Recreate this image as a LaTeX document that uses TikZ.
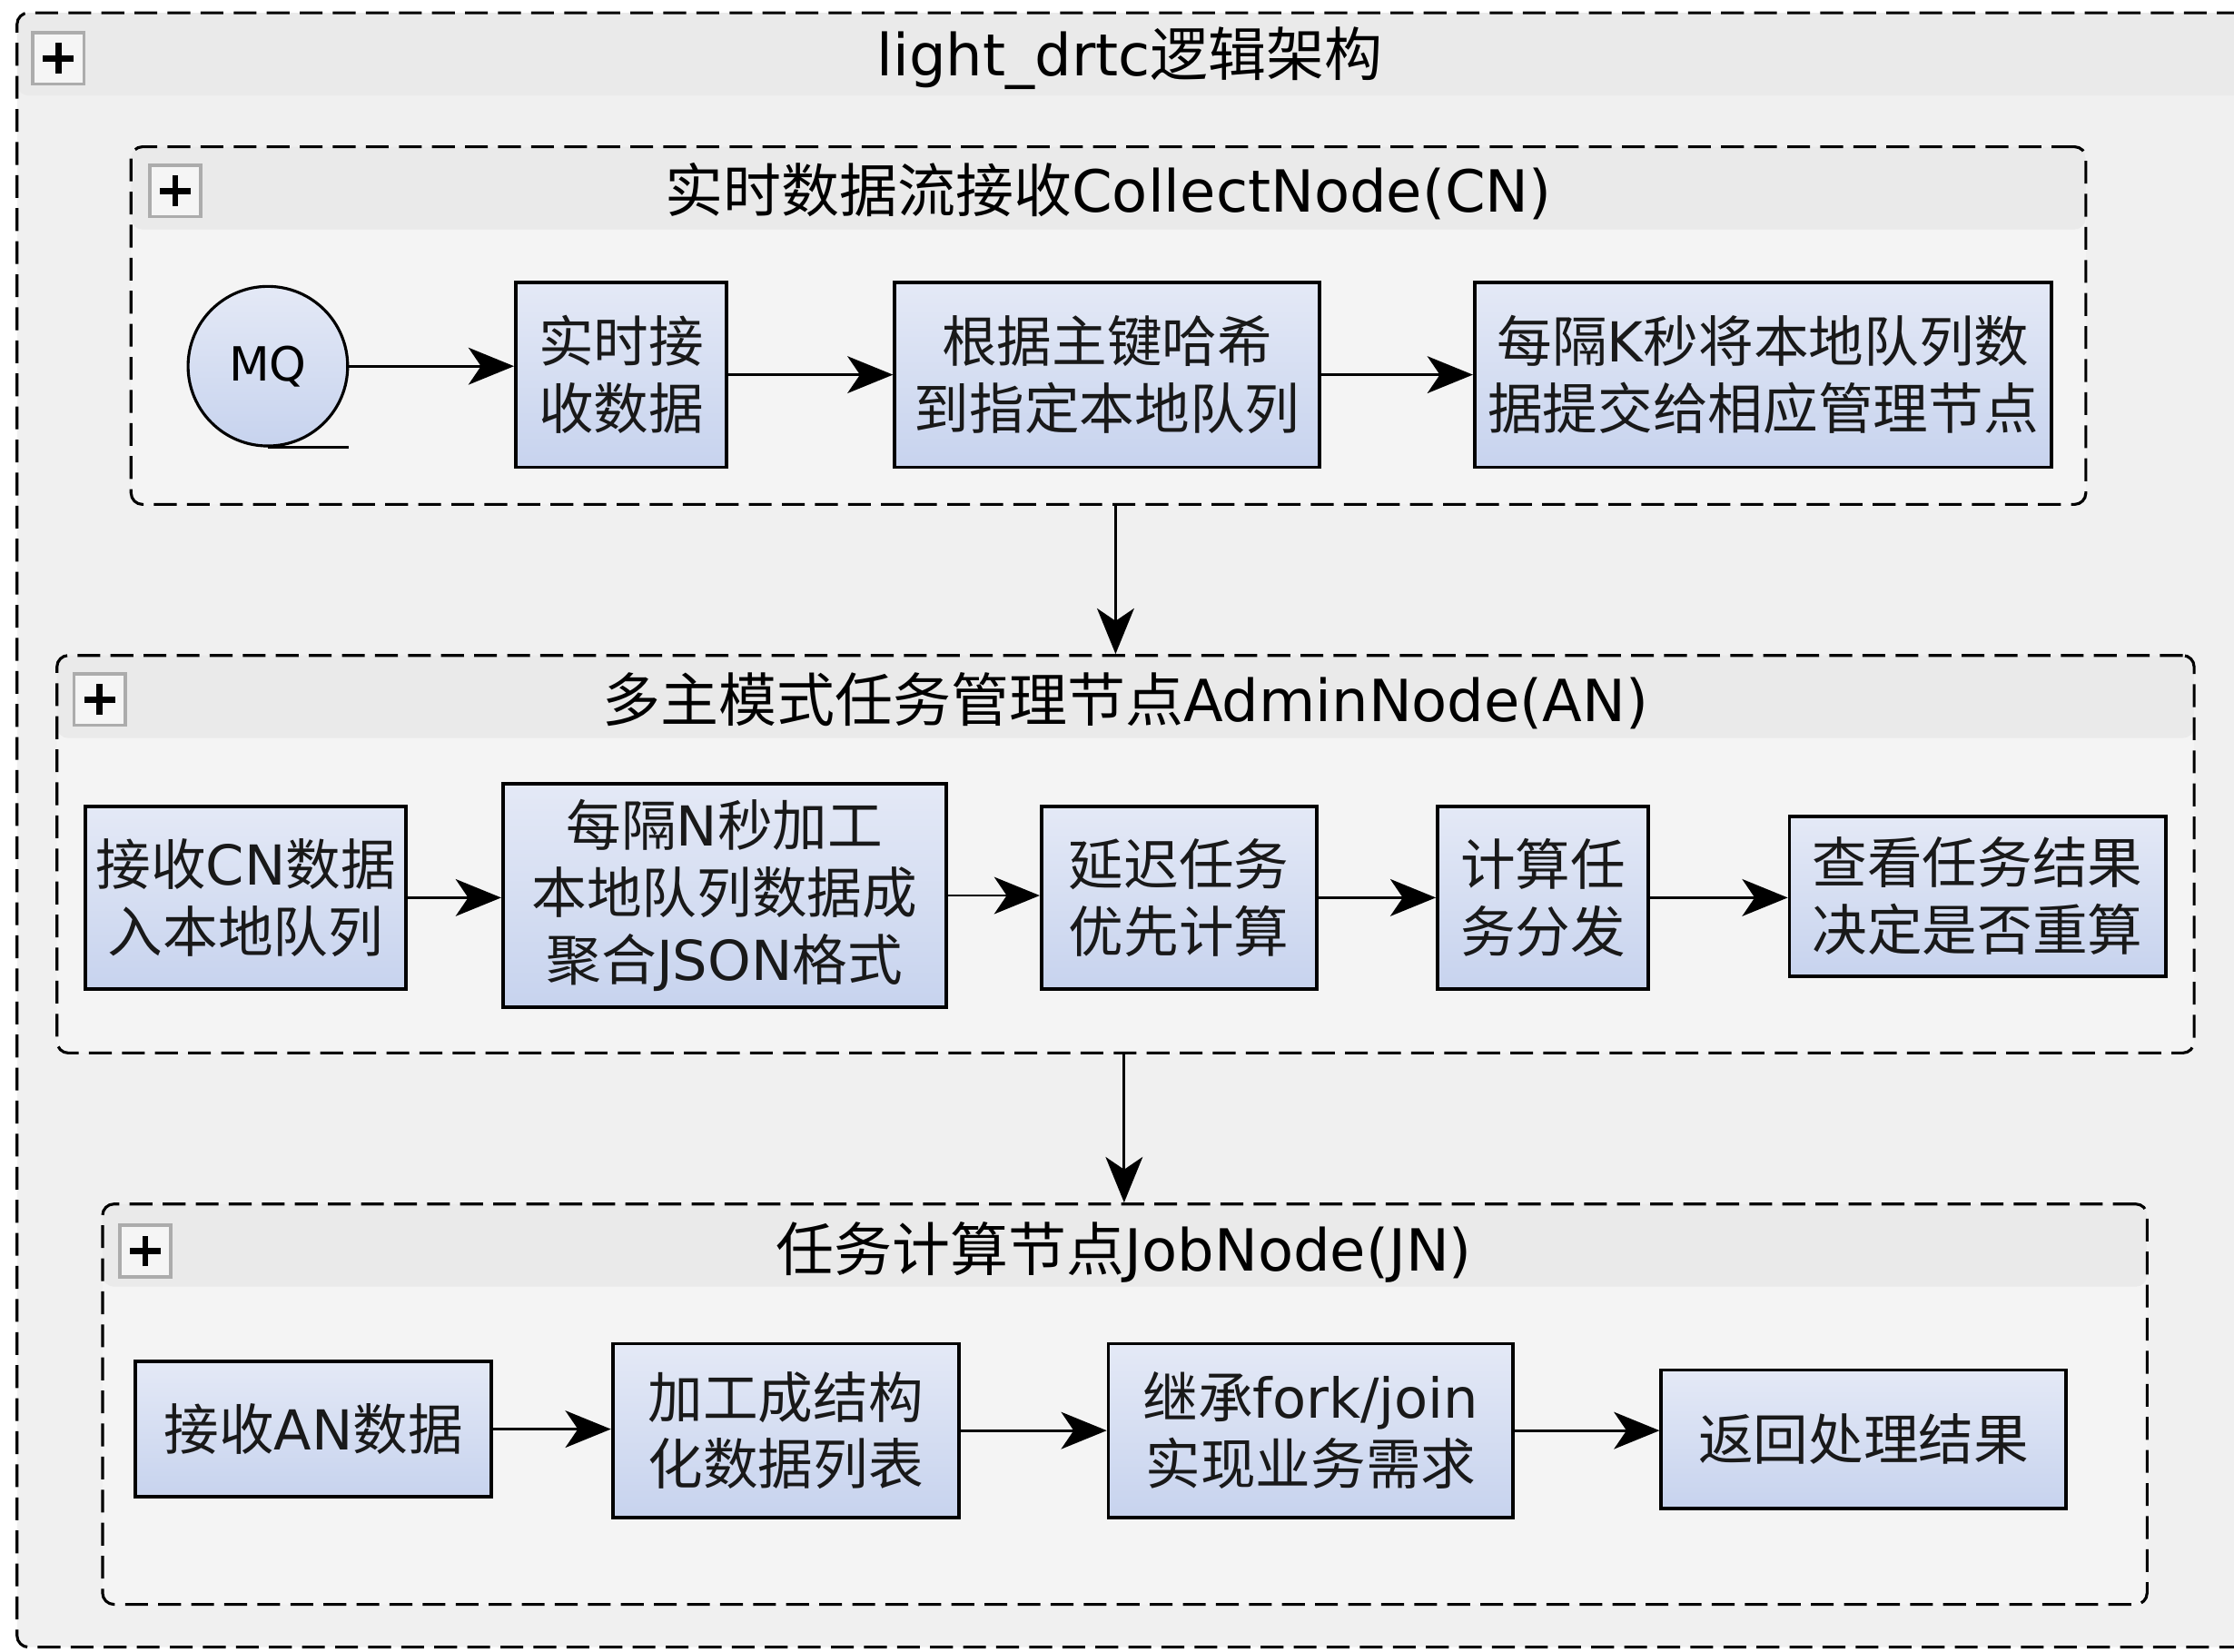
\documentclass[tikz,border=0pt]{standalone}
\usepackage{fontspec}
\setmainfont{DejaVu Sans}
\newfontfamily\cjk{Noto Sans CJK SC}
\usetikzlibrary{arrows.meta}
\newcommand\zh[1]{{\cjk #1}}
\newcommand\boxfont{\fontsize{27.5pt}{33.4pt}\selectfont}
\newcommand\ttlfont{\fontsize{29pt}{34pt}\selectfont}
\newcommand\mqfont{\fontsize{23.5pt}{28pt}\selectfont}
\definecolor{boxtop}{HTML}{E4E9F6}
\definecolor{boxbot}{HTML}{C7D3EE}
\definecolor{grpbg}{HTML}{F4F4F4}
\definecolor{hdrbg}{HTML}{EAEAEA}
\definecolor{outerbg}{HTML}{F0F0F0}
\begin{document}
\begin{tikzpicture}[x=0.25mm,y=-0.25mm,
  grp/.style={draw=black, line width=0.5mm, dash pattern=on 4mm off 1.8mm,
    rounded corners=2mm, fill=grpbg, inner sep=0,
    path picture={\fill[hdrbg] (path picture bounding box.north west) rectangle ([yshift=-14.5mm]path picture bounding box.north east);}},
  plusbox/.style={draw=gray!65, line width=0.6mm, fill=white!92!gray, minimum size=9mm, inner sep=0,
    path picture={\draw[line width=1.1mm,black] ([xshift=-2.7mm]path picture bounding box.center) -- ([xshift=2.7mm]path picture bounding box.center);
                  \draw[line width=1.1mm,black] ([yshift=-2.7mm]path picture bounding box.center) -- ([yshift=2.7mm]path picture bounding box.center);}},
  ttl/.style={font=\ttlfont, inner sep=0, text=black},
  box/.style={draw=black, line width=0.6mm, top color=boxtop, bottom color=boxbot,
    align=center, font=\boxfont, inner sep=0, text=black!90},
  mqnode/.style={circle, draw=black, line width=0.5mm, top color=boxtop, bottom color=boxbot,
    minimum size=28mm, inner sep=0, font=\mqfont},
  arr/.style={-{Stealth[length=8mm,width=6.5mm,inset=2.2mm]}, line width=0.45mm, black}
]
\clip (0,0) rectangle (1568,1159);
\fill[white] (0,0) rectangle (1568,1159);

% outer frame
\node[grp, fill=outerbg, minimum width=392mm, minimum height=286.75mm] (outer) at (796,582.5) {};
\node[plusbox] (po) at (41,41) {};
\node[ttl] (tout) at (793,41) {light\_drtc\zh{逻辑架构}};

% CollectNode group
\node[grp, minimum width=343mm, minimum height=62.75mm] (cn) at (778,228.5) {};
\node[plusbox] (pc) at (123,134) {};
\node[ttl] (tcn) at (778,134) {\zh{实时数据流接收}CollectNode(CN)};

\node[mqnode] (mq) at (188,257) {MQ};
\node[box, minimum width=37mm, minimum height=32.5mm] (b1) at (436,263) {\zh{实时接}\\\zh{收数据}};
\node[box, minimum width=74.5mm, minimum height=32.5mm] (b2) at (777,263) {\zh{根据主键哈希}\\\zh{到指定本地队列}};
\node[box, minimum width=101.25mm, minimum height=32.5mm] (b3) at (1237.5,263) {\zh{每隔}K\zh{秒将本地队列数}\\\zh{据提交给相应管理节点}};
\coordinate (mqtail) at (245,313);
\draw[line width=0.45mm] (mq.south) -- (mq.south -| mqtail);
\draw[arr] (mq.east) -- (mq.east -| b1.west);
\draw[arr] (b1.east) -- (b1.east -| b2.west);
\draw[arr] (b2.east) -- (b2.east -| b3.west);

% AdminNode group
\node[grp, minimum width=375mm, minimum height=69.75mm] (an) at (790,599.5) {};
\node[plusbox] (pa) at (70,491) {};
\node[ttl] (tan) at (790,492) {\zh{多主模式任务管理节点}AdminNode(AN)};

\node[box, minimum width=56.25mm, minimum height=32mm] (a1) at (172.5,630) {\zh{接收}CN\zh{数据}\\\zh{入本地队列}};
\node[box, minimum width=77.75mm, minimum height=39.25mm] (a2) at (508.5,628.5) {\zh{每隔}N\zh{秒加工}\\\zh{本地队列数据成}\\\zh{聚合}JSON\zh{格式}};
\node[box, minimum width=48.25mm, minimum height=32mm] (a3) at (827.5,630) {\zh{延迟任务}\\\zh{优先计算}};
\node[box, minimum width=37mm, minimum height=32mm] (a4) at (1083,630) {\zh{计算任}\\\zh{务分发}};
\node[box, minimum width=66mm, minimum height=28mm] (a5) at (1388,629) {\zh{查看任务结果}\\\zh{决定是否重算}};
\draw[arr] (a1.east) -- (a1.east -| a2.west);
\draw[arr] (a2.east) -- (a2.east -| a3.west);
\draw[arr] (a3.east) -- (a3.east -| a4.west);
\draw[arr] (a4.east) -- (a4.east -| a5.west);

% JobNode group
\node[grp, minimum width=358.75mm, minimum height=70.25mm] (jn) at (789.5,985.5) {};
\node[plusbox] (pj) at (102,878) {};
\node[ttl] (tjn) at (789,879) {\zh{任务计算节点}JobNode(JN)};

\node[box, minimum width=62.5mm, minimum height=23.75mm] (j1) at (220,1003) {\zh{接收}AN\zh{数据}};
\node[box, minimum width=60.75mm, minimum height=30.5mm] (j2) at (551.5,1004) {\zh{加工成结构}\\\zh{化数据列表}};
\node[box, minimum width=71mm, minimum height=30.5mm] (j3) at (920,1004) {\zh{继承}fork/join\\\zh{实现业务需求}};
\node[box, minimum width=71mm, minimum height=24.25mm] (j4) at (1308,1010) {\zh{返回处理结果}};
\draw[arr] (j1.east) -- (j1.east -| j2.west);
\draw[arr] (j2.east) -- (j2.east -| j3.west);
\draw[arr] (j3.east) -- (j3.east -| j4.west);

% connectors between groups
\coordinate (xa) at (783,0);
\coordinate (xb) at (789,0);
\draw[arr] (cn.south -| xa) -- (an.north -| xa);
\draw[arr] (an.south -| xb) -- (jn.north -| xb);
\end{tikzpicture}
\end{document}
